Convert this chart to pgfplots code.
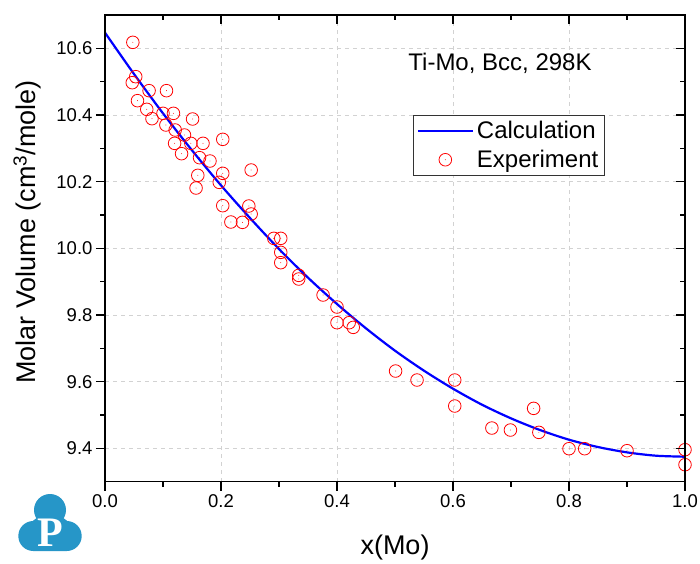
\documentclass[border=0pt]{standalone}
\usepackage{pgfplots}
\pgfplotsset{compat=1.18}
\usepackage{fontspec}
\setmainfont{Liberation Sans}
\newfontfamily\logofont{Liberation Serif}
\definecolor{logoblue}{RGB}{38,150,200}
\pgfdeclareplotmark{odot}{%
  \pgfpathcircle{\pgfpointorigin}{\pgfplotmarksize}\pgfusepathqstroke
  \pgfpathcircle{\pgfpointorigin}{0.45pt}\pgfusepathqfill}
\pgfplotsset{
  lineleg/.style={legend image code/.code={\draw[##1] (0pt,0pt) -- (55pt,0pt);}},
  markleg/.style={legend image code/.code={\draw[mark repeat=2,mark phase=2,##1] plot coordinates {(0pt,0pt)(27.5pt,0pt)(55pt,0pt)};}},
}
\pgfplotstableread{
x y
0.048 10.618
0.053 10.515
0.047 10.497
0.076 10.473
0.106 10.473
0.056 10.443
0.072 10.417
0.100 10.405
0.118 10.405
0.081 10.389
0.151 10.388
0.105 10.370
0.121 10.355
0.137 10.340
0.120 10.315
0.148 10.315
0.169 10.315
0.203 10.327
0.132 10.284
0.163 10.272
0.181 10.262
0.203 10.225
0.160 10.219
0.252 10.235
0.197 10.198
0.157 10.181
0.203 10.128
0.248 10.127
0.252 10.103
0.217 10.079
0.237 10.078
0.291 10.030
0.303 10.030
0.303 9.988
0.303 9.957
0.334 9.919
0.334 9.908
0.376 9.860
0.400 9.824
0.400 9.777
0.421 9.777
0.428 9.763
0.501 9.632
0.538 9.605
0.603 9.605
0.603 9.527
0.739 9.520
0.667 9.461
0.699 9.455
0.748 9.448
0.800 9.399
0.827 9.399
0.900 9.393
1.000 9.396
1.000 9.351
}\expdata
\pgfplotstableread{
x y
0.00 10.647
0.05 10.523
0.10 10.405
0.15 10.294
0.20 10.189
0.25 10.091
0.30 9.998
0.35 9.912
0.40 9.833
0.45 9.760
0.50 9.693
0.55 9.633
0.60 9.579
0.65 9.531
0.70 9.490
0.75 9.455
0.80 9.426
0.85 9.404
0.90 9.388
0.95 9.378
1.00 9.375
}\calcdata
\begin{document}
\begin{tikzpicture}
\useasboundingbox (0pt,0pt) rectangle (700pt,563pt);
\pgfplotsset{
  common/.style={
    scale only axis, width=580pt, height=466.7pt,
    at={(105pt,81.3pt)}, anchor=south west,
    xmin=0, xmax=1, ymin=9.3, ymax=10.7,
    xtick={0,0.2,0.4,0.6,0.8,1.0},
    ytick={9.4,9.6,9.8,10.0,10.2,10.4,10.6},
    minor x tick num=1, minor y tick num=1,
    axis line style={line width=1.5pt, black},
    major tick style={line width=1.5pt, black},
    minor tick style={line width=1.5pt, black},
    major tick length=9pt, minor tick length=5pt,
  }
}
\begin{axis}[common,
  tick align=outside, xtick pos=left, ytick pos=left,
  grid=major,
  major grid style={line width=0.8pt, gray!35, dash pattern=on 4pt off 4pt},
  /pgf/number format/assume math mode=true,
  xticklabel style={font=\fontsize{18.5}{21}\selectfont, /pgf/number format/.cd, fixed, fixed zerofill, precision=1},
  yticklabel style={font=\fontsize{18.5}{21}\selectfont, /pgf/number format/.cd, fixed, fixed zerofill, precision=1},
  xlabel={x(Mo)},
  ylabel={Molar Volume (cm\textsuperscript{3}/mole)},
  xlabel style={font=\fontsize{27}{30}\selectfont, at={(axis description cs:0.5,-0.14)}, anchor=center},
  ylabel style={font=\fontsize{27}{30}\selectfont, at={(axis description cs:-0.134,0.535)}, anchor=center},
  legend style={at={(rel axis cs:0.5316,0.7857)}, anchor=north west,
    draw=black!80, line width=0.8pt, inner sep=3pt, row sep=4pt,
    font=\fontsize{24}{28}\selectfont,
    nodes={inner sep=3pt}},
  legend cell align=left,
]
\addplot[blue, line width=2.2pt, smooth, lineleg]
  table[x=x,y=y] {\calcdata};
\addlegendentry{Calculation}
\addplot[only marks, red, mark=odot, mark size=6.3pt,
  mark options={line width=0.8pt, fill=red}, markleg]
  table[x=x,y=y] {\expdata};
\addlegendentry{Experiment}
\node[font=\fontsize{24}{28}\selectfont, anchor=center] at (axis cs:0.681,10.556) {Ti-Mo, Bcc, 298K};
\end{axis}
\begin{axis}[common,
  tick align=inside, xtick pos=right, ytick pos=right,
  xticklabels={}, yticklabels={},
]
\end{axis}
% logo
\fill[logoblue] (50pt,53pt) circle (16pt);
\fill[logoblue] (33.3pt,27pt) circle (15pt);
\fill[logoblue] (66.7pt,27pt) circle (15pt);
\fill[logoblue] (33.3pt,12pt) -- (66.7pt,12pt) -- (70pt,40pt) -- (50pt,55pt) -- (30pt,40pt) -- cycle;
\node[white, font=\logofont\bfseries\fontsize{42}{42}\selectfont, inner sep=0pt] at (50.7pt,30.5pt) {P};
\end{tikzpicture}
\end{document}
